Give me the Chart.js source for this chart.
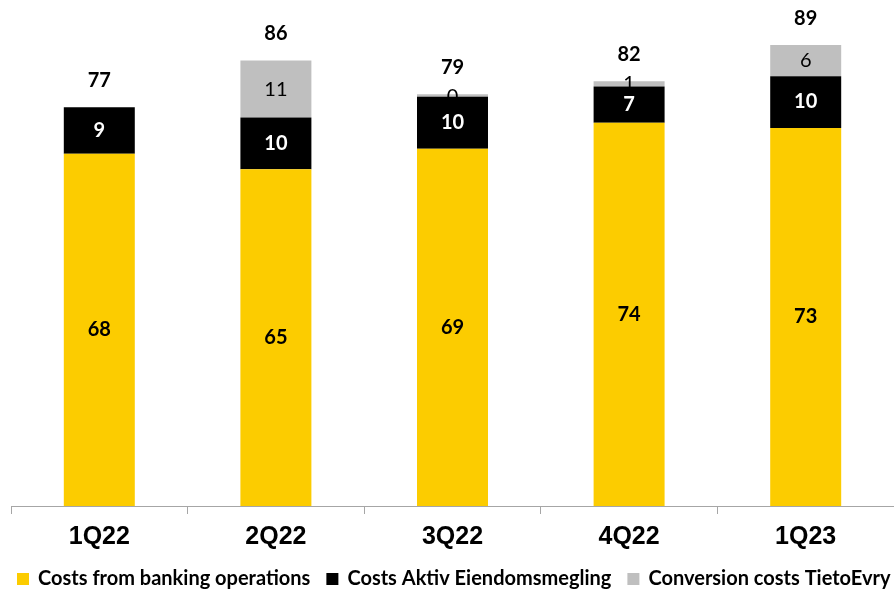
<!DOCTYPE html>
<html>
<head>
<meta charset="utf-8">
<script src="https://cdn.jsdelivr.net/npm/chart.js@4/dist/chart.umd.min.js"></script>
<style>
  html, body { margin: 0; padding: 0; background: #fff; }
  #wrap { width: 894px; height: 593px; position: relative; }
</style>
</head>
<body>
<div id="wrap"><canvas id="costChart"></canvas></div>
<script>
const quarters = ['1Q22', '2Q22', '3Q22', '4Q22', '1Q23'];
const bankingCosts = [68, 65, 69, 74, 73];
const aktivCosts = [9, 10, 10, 7, 10];
const tietoEvryCosts = [null, 11, 0, 1, 6];

const YELLOW = 'rgb(252, 204, 0)';
const GREY = 'rgb(191, 191, 191)';
const LABEL_FONT = 'Lato, "Noto Sans", sans-serif';

// segment label styles, one per dataset
const segmentStyles = [
  { color: '#000', weight: 'bold' },
  { color: '#fff', weight: 'bold' },
  { color: '#000', weight: 'normal' }
];

const barLabels = {
  id: 'barLabels',
  afterDatasetsDraw(chart) {
    const ctx = chart.ctx;
    ctx.save();
    ctx.textAlign = 'center';
    ctx.textBaseline = 'middle';

    chart.data.datasets.forEach((ds, di) => {
      const meta = chart.getDatasetMeta(di);
      const style = segmentStyles[di];
      ctx.fillStyle = style.color;
      ctx.font = style.weight + ' 20px ' + LABEL_FONT;
      meta.data.forEach((bar, i) => {
        const v = ds.data[i];
        if (v === null || v === undefined) return;
        ctx.fillText(String(v), bar.x, (bar.y + bar.base) / 2);
      });
    });

    // totals above each stack
    ctx.fillStyle = '#000';
    ctx.font = 'bold 20px ' + LABEL_FONT;
    quarters.forEach((q, i) => {
      let total = 0;
      let top = Infinity;
      let x = 0;
      chart.data.datasets.forEach((ds, di) => {
        const v = ds.data[i];
        if (v === null || v === undefined) return;
        total += v;
        const bar = chart.getDatasetMeta(di).data[i];
        top = Math.min(top, bar.y);
        x = bar.x;
      });
      ctx.fillText(String(total), x, top - 27);
    });
    ctx.restore();
  }
};

// one-row legend along the bottom edge
const bottomLegend = {
  id: 'bottomLegend',
  afterDraw(chart) {
    const ctx = chart.ctx;
    const y = 579;
    let x = 17;
    ctx.save();
    ctx.font = 'bold 20px ' + LABEL_FONT;
    ctx.textBaseline = 'middle';
    ctx.textAlign = 'left';
    chart.data.datasets.forEach(ds => {
      ctx.fillStyle = ds.backgroundColor;
      ctx.fillRect(x, y - 6, 12, 12);
      x += 12 + 9;
      ctx.fillStyle = '#000';
      ctx.fillText(ds.label, x, y);
      x += ctx.measureText(ds.label).width + 16;
    });
    ctx.restore();
  }
};

const data = {
  labels: quarters,
  datasets: [
    {
      label: 'Costs from banking operations',
      backgroundColor: YELLOW,
      data: bankingCosts
    },
    {
      label: 'Costs Aktiv Eiendomsmegling',
      backgroundColor: '#000',
      data: aktivCosts
    },
    {
      label: 'Conversion costs TietoEvry',
      backgroundColor: GREY,
      minBarLength: 5,
      data: tietoEvryCosts
    }
  ]
};

const config = {
  type: 'bar',
  data: data,
  options: {
    responsive: true,
    maintainAspectRatio: false,
    animation: false,
    layout: { padding: { top: 0, left: 11, right: 0, bottom: 32 } },
    datasets: {
      bar: { barPercentage: 0.402, categoryPercentage: 1, borderWidth: 0 }
    },
    scales: {
      x: {
        stacked: true,
        afterFit(scale) { scale.height = 55; },
        grid: { offset: true, drawOnChartArea: false, tickLength: 8, color: '#A6A6A6' },
        border: { color: '#A6A6A6', width: 1 },
        ticks: {
          color: '#000',
          padding: 8,
          font: { family: '"Liberation Sans", Arial, sans-serif', weight: 'bold', size: 25 }
        }
      },
      y: {
        stacked: true,
        display: false,
        min: 0,
        max: 97.7
      }
    },
    plugins: {
      tooltip: { enabled: false },
      legend: { display: false }
    }
  },
  plugins: [barLabels, bottomLegend]
};

const costChart = new Chart(document.getElementById('costChart'), config);
</script>
</body>
</html>
